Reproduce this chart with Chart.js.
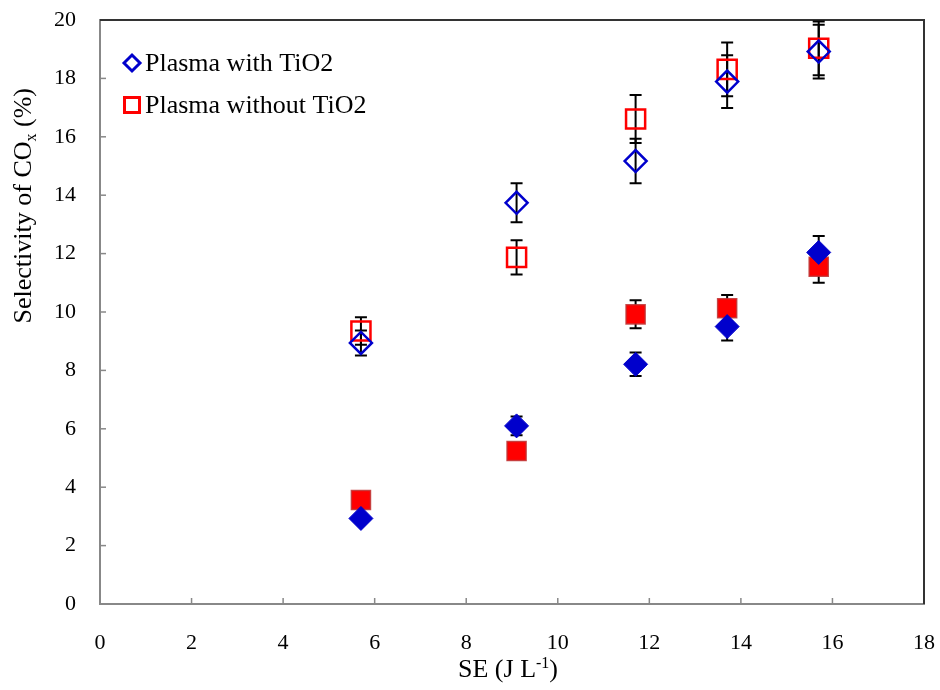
<!DOCTYPE html>
<html><head><meta charset="utf-8">
<script src="https://cdn.jsdelivr.net/npm/chart.js@4.4.1/dist/chart.umd.min.js"></script>
<style>html,body{margin:0;padding:0;background:#fff}#wrap{width:940px;height:690px}</style>
</head><body><div id="wrap"><canvas id="c" width="940" height="690"></canvas></div>
<script>
// ---- data ----
const seValues = [5.7, 9.1, 11.7, 13.7, 15.7];
const withTiO2Open = [8.94, 13.74, 15.17, 17.89, 18.92];
const withTiO2OpenErr = [0.43, 0.67, 0.76, 0.90, 0.92];
const withoutTiO2Open = [9.35, 11.87, 16.61, 18.31, 19.03];
const withoutTiO2OpenErr = [0.47, 0.59, 0.82, 0.92, 0.92];
const withTiO2Filled = [2.93, 6.10, 8.21, 9.50, 12.04];
const withTiO2FilledErr = [0.15, 0.32, 0.40, 0.48, 0.56];
const withoutTiO2Filled = [3.56, 5.24, 9.92, 10.13, 11.55];
const withoutTiO2FilledErr = [0.2, 0.2, 0.48, 0.45, 0.55];
const legendLabels = ["Plasma with TiO2", "Plasma without TiO2"];
const xTitle = ["SE (J L", "-1", ")"];
const yTitle = ["Selectivity of CO", "x", " (%)"];

const FONT = "'Liberation Serif', 'Times New Roman', serif";
const BLUE = '#0000CC';
const RED = '#FF0000';

function pts(vals) { return seValues.map((x, i) => ({ x: x, y: vals[i] })); }

const errorBarPlugin = {
  id: 'errorBars',
  beforeDatasetsDraw(chart) {
    const ctx = chart.ctx, xs = chart.scales.x, ys = chart.scales.y;
    ctx.save();
    ctx.strokeStyle = '#000';
    ctx.lineWidth = 2;
    chart.data.datasets.forEach(ds => {
      if (!ds.errors) return;
      ds.data.forEach((p, i) => {
        const e = ds.errors[i];
        if (!e) return;
        const x = xs.getPixelForValue(p.x);
        const y1 = ys.getPixelForValue(p.y + e);
        const y2 = ys.getPixelForValue(p.y - e);
        ctx.beginPath();
        ctx.moveTo(x, y1); ctx.lineTo(x, y2);
        ctx.moveTo(x - 6, y1); ctx.lineTo(x + 6, y1);
        ctx.moveTo(x - 6, y2); ctx.lineTo(x + 6, y2);
        ctx.stroke();
      });
    });
    ctx.restore();
  }
};

const framePlugin = {
  id: 'frame',
  beforeDatasetsDraw(chart) {
    const ctx = chart.ctx, a = chart.chartArea;
    ctx.save();
    ctx.strokeStyle = '#888';
    ctx.lineWidth = 1.5;
    chart.scales.x.ticks.forEach(t => {
      const x = chart.scales.x.getPixelForValue(t.value);
      ctx.beginPath(); ctx.moveTo(x, a.bottom); ctx.lineTo(x, a.bottom - 6); ctx.stroke();
    });
    chart.scales.y.ticks.forEach(t => {
      const y = chart.scales.y.getPixelForValue(t.value);
      ctx.beginPath(); ctx.moveTo(a.left, y); ctx.lineTo(a.left + 6, y); ctx.stroke();
    });
    ctx.strokeStyle = '#333';
    ctx.lineWidth = 2;
    ctx.beginPath();
    ctx.moveTo(a.left, a.top); ctx.lineTo(a.right, a.top); ctx.lineTo(a.right, a.bottom);
    ctx.stroke();
    ctx.restore();
  }
};

function measureParts(ctx, parts, size) {
  ctx.font = size + 'px ' + FONT;
  const w0 = ctx.measureText(parts[0]).width;
  ctx.font = Math.round(size * 0.62) + 'px ' + FONT;
  const w1 = ctx.measureText(parts[1]).width;
  ctx.font = size + 'px ' + FONT;
  const w2 = ctx.measureText(parts[2]).width;
  return [w0, w1, w2];
}

const titlePlugin = {
  id: 'titles',
  afterDraw(chart) {
    const ctx = chart.ctx, a = chart.chartArea;
    const size = 26, small = Math.round(26 * 0.62);
    ctx.save();
    ctx.fillStyle = '#000';
    ctx.textBaseline = 'alphabetic';
    ctx.textAlign = 'left';
    let w = measureParts(ctx, xTitle, size);
    let total = w[0] + w[1] + w[2];
    let sx = (a.left + a.right) / 2 - 4 - total / 2;
    const by = 677;
    ctx.font = size + 'px ' + FONT; ctx.fillText(xTitle[0], sx, by);
    ctx.font = small + 'px ' + FONT; ctx.fillText(xTitle[1], sx + w[0], by - 9);
    ctx.font = size + 'px ' + FONT; ctx.fillText(xTitle[2], sx + w[0] + w[1], by);
    w = measureParts(ctx, yTitle, size);
    total = w[0] + w[1] + w[2];
    ctx.translate(31, a.top + (a.bottom - a.top) * 0.318);
    ctx.rotate(-Math.PI / 2);
    sx = -total / 2;
    ctx.font = size + 'px ' + FONT; ctx.fillText(yTitle[0], sx, 0);
    ctx.font = small + 'px ' + FONT; ctx.fillText(yTitle[1], sx + w[0], 5);
    ctx.font = size + 'px ' + FONT; ctx.fillText(yTitle[2], sx + w[0] + w[1], 0);
    ctx.restore();
  }
};

const legendPlugin = {
  id: 'customLegend',
  afterDraw(chart) {
    const ctx = chart.ctx, a = chart.chartArea;
    ctx.save();
    ctx.font = '26px ' + FONT;
    ctx.fillStyle = '#000';
    ctx.textBaseline = 'middle';
    let row = 0;
    chart.data.datasets.forEach(ds => {
      if (!ds.inLegend) return;
      const cx = a.left + 32, cy = a.top + 43 + row * 42;
      ctx.strokeStyle = ds.borderColor;
      ctx.lineWidth = 3;
      ctx.beginPath();
      if (ds.pointStyle === 'rectRot') {
        ctx.moveTo(cx - 8, cy); ctx.lineTo(cx, cy - 8); ctx.lineTo(cx + 8, cy); ctx.lineTo(cx, cy + 8); ctx.closePath();
      } else {
        ctx.rect(cx - 7.5, cy - 7.5, 15, 15);
      }
      ctx.stroke();
      ctx.fillText(ds.label, cx + 13, cy + 1);
      row++;
    });
    ctx.restore();
  }
};

new Chart(document.getElementById('c'), {
  type: 'scatter',
  data: {
    datasets: [
      { label: legendLabels[0], inLegend: true, data: pts(withTiO2Open), errors: withTiO2OpenErr,
        pointStyle: 'rectRot', pointRadius: 11, pointHoverRadius: 11, borderColor: BLUE, backgroundColor: 'rgba(0,0,0,0)', borderWidth: 2.5, clip: false },
      { label: legendLabels[1], inLegend: true, data: pts(withoutTiO2Open), errors: withoutTiO2OpenErr,
        pointStyle: 'rect', pointRadius: 13.5, pointHoverRadius: 13.5, borderColor: RED, backgroundColor: 'rgba(0,0,0,0)', borderWidth: 2.5, clip: false },
      { label: legendLabels[0] + ' (filled)', data: pts(withTiO2Filled), errors: withTiO2FilledErr,
        pointStyle: 'rectRot', pointRadius: 12, pointHoverRadius: 12, borderColor: BLUE, backgroundColor: BLUE, borderWidth: 1, clip: false },
      { label: legendLabels[1] + ' (filled)', data: pts(withoutTiO2Filled), errors: withoutTiO2FilledErr,
        pointStyle: 'rect', pointRadius: 13.5, pointHoverRadius: 13.5, borderColor: 'rgba(190,50,50,0.85)', backgroundColor: RED, borderWidth: 1.5, clip: false }
    ]
  },
  options: {
    responsive: false,
    animation: false,
    devicePixelRatio: 1,
    layout: { padding: { left: 0, top: 20, right: 16, bottom: 0 } },
    plugins: { legend: { display: false }, tooltip: { enabled: false } },
    scales: {
      x: {
        type: 'linear', min: 0, max: 18,
        afterFit(s) { s.height = 86; s.paddingLeft = 0; s.paddingRight = 0; },
        ticks: { stepSize: 2, color: '#000', padding: 26, font: { family: FONT, size: 22 } },
        grid: { display: false, drawTicks: false },
        border: { display: true, color: '#888', width: 2 }
      },
      y: {
        type: 'linear', min: 0, max: 20,
        afterFit(s) { s.width = 100; s.paddingTop = 0; s.paddingBottom = 0; },
        ticks: { stepSize: 2, color: '#000', padding: 24, font: { family: FONT, size: 22 } },
        grid: { display: false, drawTicks: false },
        border: { display: true, color: '#888', width: 2 }
      }
    }
  },
  plugins: [framePlugin, errorBarPlugin, titlePlugin, legendPlugin]
});
</script></body></html>
